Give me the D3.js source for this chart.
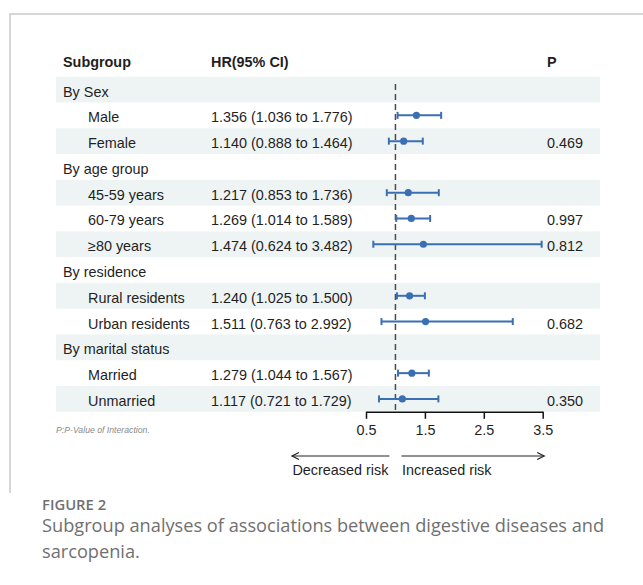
<!DOCTYPE html>
<html>
<head>
<meta charset="utf-8">
<script src="https://cdn.jsdelivr.net/npm/d3@7"></script>
<style>
  html, body { margin: 0; padding: 0; background: #fff; }
  svg { display: block; }
</style>
</head>
<body>
<svg id="chart" width="643" height="585"></svg>
<script>
// ---------- data ----------
const labels = ["By Sex", "Male", "Female", "By age group", "45-59 years", "60-79 years", "≥80 years",
  "By residence", "Rural residents", "Urban residents", "By marital status", "Married", "Unmarried"];
const isGroup = [true, false, false, true, false, false, false, true, false, false, true, false, false];
const hr    = [null, 1.356, 1.140, null, 1.217, 1.269, 1.474, null, 1.240, 1.511, null, 1.279, 1.117];
const lower = [null, 1.036, 0.888, null, 0.853, 1.014, 0.624, null, 1.025, 0.763, null, 1.044, 0.721];
const upper = [null, 1.776, 1.464, null, 1.736, 1.589, 3.482, null, 1.500, 2.992, null, 1.567, 1.729];
const pValues = ["", "", "0.469", "", "", "0.997", "0.812", "", "", "0.682", "", "", "0.350"];
const axisTicks = [0.5, 1.5, 2.5, 3.5];
const refValue = 1;
const headers = ["Subgroup", "HR(95% CI)", "P"];
const footnote = "P:P-Value of Interaction.";
const arrowLabels = ["Decreased risk", "Increased risk"];
const captionTitle = "FIGURE 2";
const captionLines = ["Subgroup analyses of associations between digestive diseases and", "sarcopenia."];

// ---------- layout ----------
const svg = d3.select("#chart");
const FONT = "'Liberation Sans', Arial, Helvetica, sans-serif";
const CAPFONT = "'Open Sans', 'Noto Sans', sans-serif";
const textColor = "#1f1f1f";
const blue = "#3b6fb3";
const shade = "#eef4f4";

const rowsTop = 76.7, rowsBottom = 411.8;
const bandLeft = 56, bandRight = 600;
const colGroupX = 63, colSubX = 88, colHrX = 211, colPX = 547;

const x = d3.scaleLinear().domain([0.5, 3.5]).range([366, 542.7]);
const y = d3.scaleBand().domain(d3.range(labels.length)).range([rowsTop, rowsBottom]).paddingInner(0).paddingOuter(0);
const fmt = d3.format(".3f");

// frame
svg.append("path")
  .attr("d", `M10,493 V14 H643`)
  .attr("fill", "none").attr("stroke", "#c9c9c9").attr("stroke-width", 1.5);

// bands
svg.append("g").selectAll("rect")
  .data(labels.map((d, i) => i).filter(i => i % 2 === 0))
  .join("rect")
  .attr("x", bandLeft).attr("width", bandRight - bandLeft)
  .attr("y", i => y(i)).attr("height", y.bandwidth())
  .attr("fill", shade);

// headers
const hdr = svg.append("g").attr("font-family", FONT).attr("font-size", "14.4px")
  .attr("font-weight", "bold").attr("fill", textColor);
hdr.append("text").attr("x", colGroupX).attr("y", 66.5).text(headers[0]);
hdr.append("text").attr("x", colHrX).attr("y", 66.5).text(headers[1]);
hdr.append("text").attr("x", colPX).attr("y", 66.5).text(headers[2]);

// row texts
const rowsG = svg.append("g").attr("font-family", FONT).attr("font-size", "14.4px").attr("fill", textColor);
labels.forEach((lab, i) => {
  const cy = y(i) + y.bandwidth() / 2 + 7;
  rowsG.append("text").attr("x", isGroup[i] ? colGroupX : colSubX).attr("y", cy).text(lab);
  if (hr[i] != null) {
    rowsG.append("text").attr("x", colHrX).attr("y", cy)
      .text(`${fmt(hr[i])} (${fmt(lower[i])} to ${fmt(upper[i])})`);
  }
  if (pValues[i]) {
    rowsG.append("text").attr("x", colPX).attr("y", cy).text(pValues[i]);
  }
});

// reference line
svg.append("line")
  .attr("x1", x(refValue)).attr("x2", x(refValue))
  .attr("y1", 84).attr("y2", rowsBottom)
  .attr("stroke", "#4a4a4a").attr("stroke-width", 1.5)
  .attr("stroke-dasharray", "6,4");

// CIs
const ciIdx = labels.map((d, i) => i).filter(i => hr[i] != null);
const ciG = svg.append("g");
ciIdx.forEach(i => {
  const cy = y(i) + y.bandwidth() / 2;
  ciG.append("line").attr("x1", x(lower[i])).attr("x2", x(upper[i]))
    .attr("y1", cy).attr("y2", cy).attr("stroke", blue).attr("stroke-width", 2);
  [lower[i], upper[i]].forEach(v => {
    ciG.append("line").attr("x1", x(v)).attr("x2", x(v))
      .attr("y1", cy - 3.5).attr("y2", cy + 3.5).attr("stroke", blue).attr("stroke-width", 2);
  });
  ciG.append("circle").attr("cx", x(hr[i])).attr("cy", cy).attr("r", 3.6).attr("fill", blue);
});

// axis
const axis = d3.axisBottom(x).tickValues(axisTicks).tickSize(7).tickSizeOuter(0).tickPadding(6)
  .tickFormat(d3.format(".1f"));
const axG = svg.append("g").attr("transform", `translate(0,${rowsBottom})`).call(axis);
axG.select(".domain").attr("stroke", "#111").attr("stroke-width", 1.5);
axG.selectAll(".tick line").attr("stroke", "#111").attr("stroke-width", 1.5);
axG.selectAll(".tick text").attr("font-family", FONT).attr("font-size", "14.4px").attr("fill", textColor);

// footnote
svg.append("text").attr("x", 56).attr("y", 433)
  .attr("font-family", FONT).attr("font-size", "8.7px").attr("font-style", "italic")
  .attr("fill", "#8a8a8a").text(footnote);

// arrows
const arrowY = 456;
const refX = x(refValue);
const arrowG = svg.append("g").attr("stroke", "#222").attr("stroke-width", 1.2).attr("fill", "none");
arrowG.append("line").attr("x1", refX - 6).attr("x2", 292).attr("y1", arrowY).attr("y2", arrowY);
arrowG.append("path").attr("d", `M${292 + 7},${arrowY - 3.5} L292,${arrowY} L${292 + 7},${arrowY + 3.5}`);
arrowG.append("line").attr("x1", refX + 6).attr("x2", x(3.5) + 1.5).attr("y1", arrowY).attr("y2", arrowY);
arrowG.append("path").attr("d", `M${x(3.5) + 1.5 - 7},${arrowY - 3.5} L${x(3.5) + 1.5},${arrowY} L${x(3.5) + 1.5 - 7},${arrowY + 3.5}`);
svg.append("text").attr("x", refX - 7).attr("y", 475).attr("text-anchor", "end")
  .attr("font-family", FONT).attr("font-size", "14.4px").attr("fill", textColor).text(arrowLabels[0]);
svg.append("text").attr("x", refX + 6.5).attr("y", 475)
  .attr("font-family", FONT).attr("font-size", "14.4px").attr("fill", textColor).text(arrowLabels[1]);

// caption
svg.append("text").attr("x", 42).attr("y", 510)
  .attr("font-family", CAPFONT).attr("font-size", "14.8px").attr("font-weight", 600)
  .attr("fill", "#707070").text(captionTitle);
captionLines.forEach((line, k) => {
  svg.append("text").attr("x", 42).attr("y", 532 + k * 26)
    .attr("font-family", CAPFONT).attr("font-size", "18.2px")
    .attr("fill", "#707070").text(line);
});
</script>
</body>
</html>
